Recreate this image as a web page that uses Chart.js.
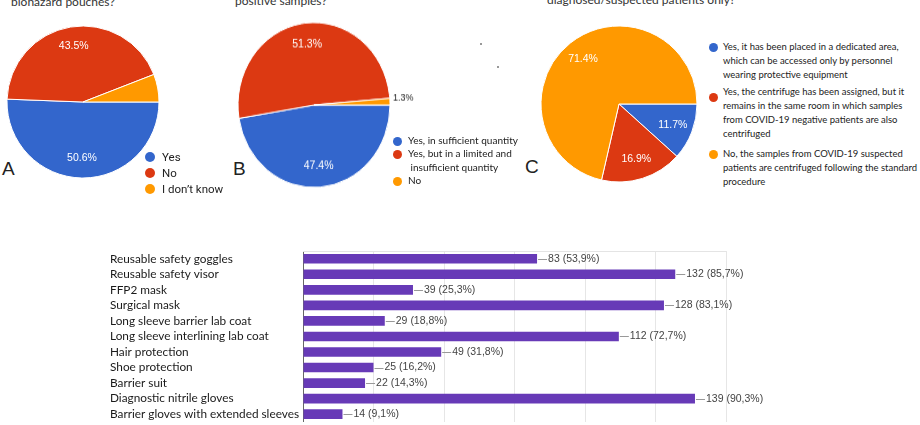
<!DOCTYPE html>
<html lang="en">
<head>
<meta charset="UTF-8">
<title>Survey results</title>
<script src="https://cdn.jsdelivr.net/npm/chart.js"></script>
<style>
  html, body { margin: 0; padding: 0; }
  body { width: 920px; height: 425px; overflow: hidden; position: relative; background: #fff;
         font-family: Lato, 'Open Sans', sans-serif; color: #222; }
  .abs { position: absolute; white-space: pre; }
  .question { font-size: 12px; line-height: 14px; color: #333; }
  .letter { font-family: 'Liberation Sans', Arial, sans-serif; font-size: 19px; line-height: 20px; color: #222; }
  .dot { position: absolute; border-radius: 50%; }
  .speck { position: absolute; width: 2px; height: 2px; background: #777; border-radius: 1px; }
  canvas { position: absolute; }
</style>
</head>
<body>

<!-- question titles, cut off at the top edge -->
<div class="abs question" style="left:11px;top:-5px">biohazard pouches?</div>
<div class="abs question" style="left:235px;top:-6px">positive samples?</div>
<div class="abs question" style="left:547px;top:-7px">diagnosed/suspected patients only?</div>

<div class="abs letter" style="left:2px;top:159px">A</div>
<div class="abs letter" style="left:233px;top:159px">B</div>
<div class="abs letter" style="left:525px;top:157px">C</div>

<div class="speck" style="left:480px;top:43px"></div>
<div class="speck" style="left:497px;top:66px"></div>

<canvas id="pieA" width="180" height="180" style="left:-7px;top:12px"></canvas>
<canvas id="pieB" width="220" height="180" style="left:204px;top:15px;transform:scaleY(1.085)"></canvas>
<canvas id="pieC" width="180" height="180" style="left:529px;top:14px"></canvas>
<canvas id="ppe" width="920" height="192" style="left:0;top:240px"></canvas>

<script>
// pie A
const pieALabels = ['Yes', 'No', 'I don\u2019t know'];
const pieAValues = [50.6, 43.5, 5.9];

// pie B
const pieBLabels = [
  ['Yes, in sufficient quantity'],
  ['Yes, but in a limited and', ' insufficient quantity'],
  ['No']
];
const pieBValues = [47.4, 51.3, 1.3];

// pie C
const pieCLabels = [
  ['Yes, it has been placed in a dedicated area,', 'which can be accessed only by personnel', 'wearing protective equipment'],
  ['Yes, the centrifuge has been assigned, but it', 'remains in the same room in which samples', 'from COVID-19 negative patients are also', 'centrifuged'],
  ['No, the samples from COVID-19 suspected', 'patients are centrifuged following the standard', 'procedure']
];
const pieCValues = [11.7, 16.9, 71.4];

// bar chart
const ppeItems = [
  'Reusable safety goggles',
  'Reusable safety visor',
  'FFP2 mask',
  'Surgical mask',
  'Long sleeve barrier lab coat',
  'Long sleeve interlining lab coat',
  'Hair protection',
  'Shoe protection',
  'Barrier suit',
  'Diagnostic nitrile gloves',
  'Barrier gloves with extended sleeves'
];
const ppeCounts = [83, 132, 39, 128, 29, 112, 49, 25, 22, 139, 14];
const ppePercents = [53.9, 85.7, 25.3, 83.1, 18.8, 72.7, 31.8, 16.2, 14.3, 90.3, 9.1];
const ppeAxisMax = 150;
const ppeAxisStep = 25;

const pieColors = ['#3366cc', '#dc3912', '#ff9900'];

// font size that makes `text` about `width` px wide
function fitSize(text, width, family) {
  const ctx = document.createElement('canvas').getContext('2d');
  ctx.font = `100px ${family}`;
  return (100 * width / ctx.measureText(text).width).toFixed(2);
}

const sliceLabels = {
  id: 'sliceLabels',
  afterDatasetsDraw(chart, args, opts) {
    const ctx = chart.ctx;
    const vals = chart.data.datasets[0].data;
    chart.getDatasetMeta(0).data.forEach((arc, i) => {
      const mode = opts.modes[i];
      if (mode === 'none') return;
      const mid = (arc.startAngle + arc.endAngle) / 2;
      const txt = vals[i].toFixed(1) + '%';
      ctx.save();
      ctx.textBaseline = 'middle';
      if (mode === 'in') {
        const r = arc.outerRadius * 0.74;
        ctx.fillStyle = '#fff';
        ctx.font = '10.5px "Liberation Sans", Arial, sans-serif';
        ctx.textAlign = 'center';
        ctx.fillText(txt, arc.x + Math.cos(mid) * r, arc.y + Math.sin(mid) * r);
      } else {
        const r = arc.outerRadius + 3;
        ctx.fillStyle = '#222';
        ctx.font = '9px "Liberation Sans", Arial, sans-serif';
        ctx.textAlign = 'left';
        ctx.fillText(txt, arc.x + Math.cos(mid) * r, arc.y + Math.sin(mid) * r - 3);
      }
      ctx.restore();
    });
  }
};

function makePie(id, labels, values, radius, modes) {
  new Chart(document.getElementById(id), {
    type: 'pie',
    data: {
      labels: labels.map(l => [].concat(l).join(' ')),
      datasets: [{ data: values, backgroundColor: pieColors, borderColor: '#fff', borderWidth: 1 }]
    },
    options: {
      responsive: false,
      animation: false,
      rotation: 90,
      radius: radius,
      plugins: { legend: { display: false }, tooltip: { enabled: false }, sliceLabels: { modes: modes } }
    },
    plugins: [sliceLabels]
  });
}

function drawLegend(labels, cfg) {
  labels.forEach((lines, i) => {
    const dot = document.createElement('div');
    dot.className = 'dot';
    dot.style.cssText = `left:${cfg.dotX - cfg.dot / 2}px;top:${cfg.dotY[i] - cfg.dot / 2}px;` +
      `width:${cfg.dot}px;height:${cfg.dot}px;background:${pieColors[i]}`;
    document.body.appendChild(dot);
    const txt = document.createElement('div');
    txt.className = 'abs';
    txt.style.cssText = `left:${cfg.textX}px;top:${cfg.textY[i] - cfg.lh / 2}px;font:${cfg.font};line-height:${cfg.lh}px;color:#222`;
    txt.textContent = [].concat(lines).join('\n');
    document.body.appendChild(txt);
  });
}

makePie('pieA', pieALabels, pieAValues, 76, ['in', 'in', 'none']);
makePie('pieB', pieBLabels, pieBValues, 76, ['in', 'in', 'out']);
makePie('pieC', pieCLabels, pieCValues, 78, ['in', 'in', 'in']);

const sizeB = fitSize(pieBLabels[0][0], 110, 'Lato');
const sizeC = fitSize(pieCLabels[2][1], 194, 'Lato');

drawLegend(pieALabels, { dotX: 150, dot: 10, textX: 162, dotY: [157, 173, 189], textY: [157, 173, 189],
  lh: 16, font: '11.5px Roboto, Arial, sans-serif' });
drawLegend(pieBLabels, { dotX: 397, dot: 9, textX: 408, dotY: [141, 154, 181], textY: [141, 154, 181],
  lh: 13.5, font: `${sizeB}px Lato, sans-serif` });
drawLegend(pieCLabels, { dotX: 713, dot: 9, textX: 723, dotY: [47, 97, 154], textY: [47, 92, 154],
  lh: 14, font: `${sizeC}px Lato, sans-serif` });

// horizontal bar chart
const barLabels = {
  id: 'barLabels',
  afterDatasetsDraw(chart) {
    const { ctx, chartArea } = chart;
    ctx.save();
    ctx.lineWidth = 1;
    ctx.strokeStyle = '#e4e4e4';
    ctx.beginPath();
    ctx.moveTo(chartArea.left, chartArea.top + 0.5);
    ctx.lineTo(chartArea.right, chartArea.top + 0.5);
    ctx.stroke();
    ctx.font = '10.5px "Liberation Sans", Arial, sans-serif';
    ctx.textBaseline = 'middle';
    chart.getDatasetMeta(0).data.forEach((bar, i) => {
      const y = Math.round(bar.y) + 0.5;
      ctx.strokeStyle = '#999';
      ctx.beginPath();
      ctx.moveTo(bar.x + 1, y);
      ctx.lineTo(bar.x + 10, y);
      ctx.stroke();
      ctx.fillStyle = '#444';
      const pct = ppePercents[i].toFixed(1).replace('.', ',');
      ctx.fillText(`${ppeCounts[i]} (${pct}%)`, bar.x + 11, bar.y);
    });
    ctx.restore();
  }
};

new Chart(document.getElementById('ppe'), {
  type: 'bar',
  data: {
    labels: ppeItems,
    datasets: [{ data: ppeCounts, backgroundColor: '#673ab7', barPercentage: 0.62, categoryPercentage: 1 }]
  },
  options: {
    indexAxis: 'y',
    responsive: false,
    animation: false,
    layout: { padding: { left: 110, right: 194, top: 11, bottom: 0 } },
    scales: {
      x: {
        min: 0, max: ppeAxisMax,
        ticks: { stepSize: ppeAxisStep, display: false },
        grid: { color: '#e6e6e6', drawTicks: false },
        border: { display: false }
      },
      y: {
        afterFit(scale) { scale.width = 193; },
        ticks: { autoSkip: false, crossAlign: 'far', color: '#1a1a1a', font: { family: 'Lato', size: 11.8 } },
        grid: { display: false },
        border: { color: '#666', width: 1 }
      }
    },
    plugins: { legend: { display: false }, tooltip: { enabled: false } }
  },
  plugins: [barLabels]
});
</script>
</body>
</html>
